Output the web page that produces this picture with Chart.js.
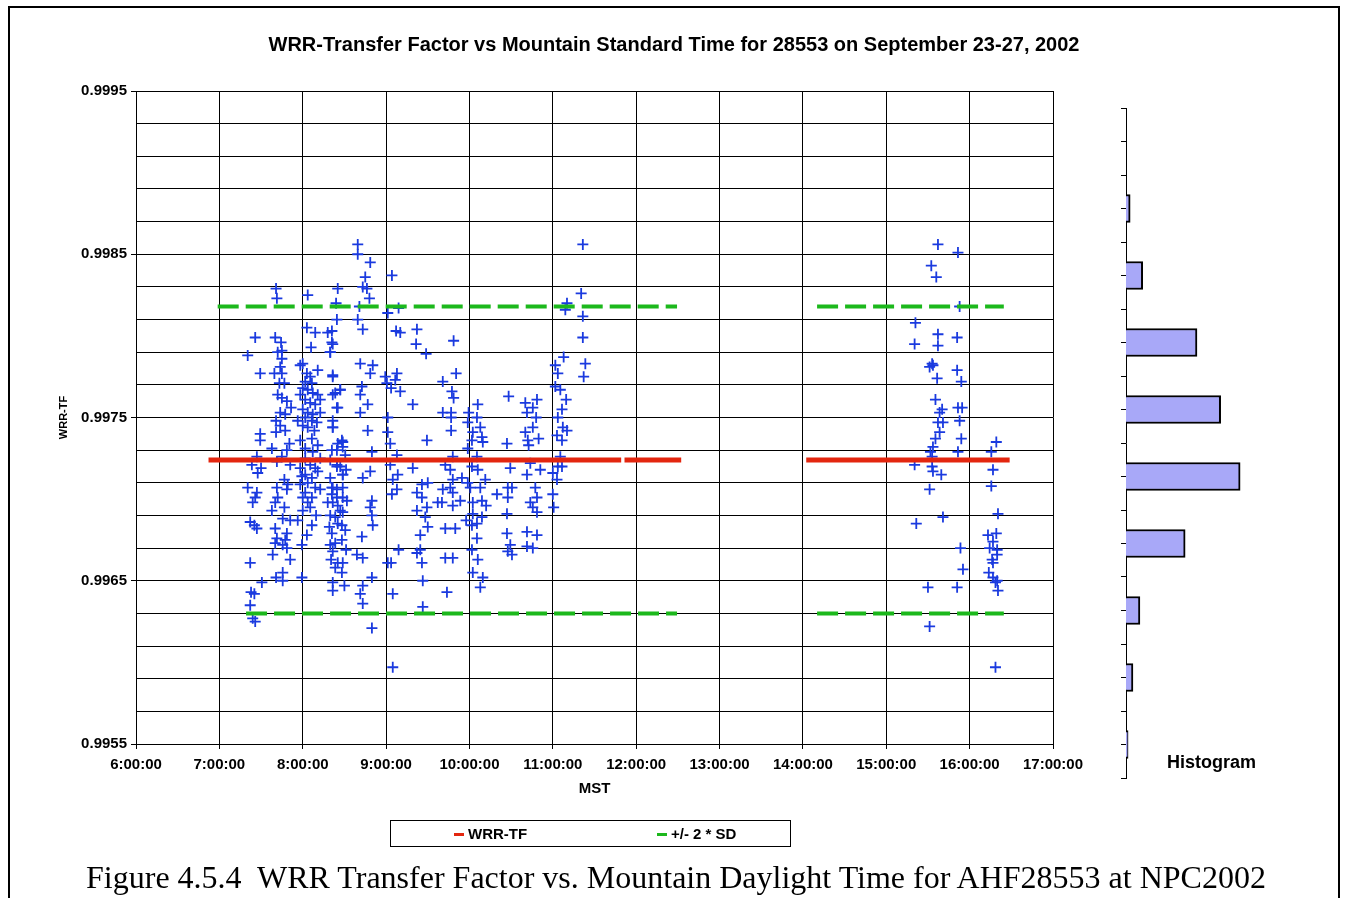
<!DOCTYPE html>
<html>
<head>
<meta charset="utf-8">
<title>WRR-Transfer Factor vs Mountain Standard Time</title>
<script src="https://cdn.jsdelivr.net/npm/chart.js@4.4.0/dist/chart.umd.min.js"></script>
<style>
  body { margin: 0; background: #fff; }
  #page { position: relative; width: 1348px; height: 898px; overflow: hidden; font-family: "Liberation Sans", Arial, sans-serif; }
  #frame { position: absolute; left: 8px; top: 6px; width: 1328px; height: 940px; border: 2px solid #000; }
  #mainChart { position: absolute; left: 0; top: 0; }
  #histChart { position: absolute; left: 1100px; top: 90px; }
  #histLabel { position: absolute; left: 1167px; top: 752px; font-size: 18px; font-weight: bold; line-height: 20px; }
  #legendBox { position: absolute; left: 390px; top: 820px; width: 399px; height: 25px; border: 1.5px solid #000; }
  .legend-item { position: absolute; top: 4px; font-size: 15px; font-weight: bold; line-height: 18px; white-space: nowrap; }
  .legend-mark { display: inline-block; width: 10px; height: 3px; vertical-align: middle; margin-right: 4px; position: relative; top: -1px; }
  #caption { position: absolute; left: 0; width: 1352px; top: 861px; text-align: center; font-family: "Liberation Serif", "Times New Roman", serif; font-size: 32px; line-height: 32px; white-space: nowrap; }
</style>
</head>
<body>
<div id="page">
  <div id="frame"></div>
  <canvas id="mainChart" width="1348" height="898"></canvas>
  <canvas id="histChart" width="200" height="700"></canvas>
  <div id="histLabel">Histogram</div>
  <div id="legendBox"></div>
  <div id="caption">Figure 4.5.4&nbsp; WRR Transfer Factor vs. Mountain Daylight Time for AHF28553 at NPC2002</div>
</div>
<script>
'use strict'

//++++++++++++++ Data ++++++++++++++//
// MST in decimal hours, WRR-TF value
let morningPoints = [
  // 7:20 - 7:30
  [7.43,0.99799],[7.34,0.99788],[7.49,0.99777],[7.49,0.99740],[7.49,0.99736],[7.45,0.99726],
  [7.39,0.99721],[7.50,0.99719],[7.46,0.99716],[7.34,0.99707],[7.45,0.99704],[7.43,0.99701],
  [7.40,0.99698],[7.37,0.99686],[7.42,0.99684],[7.45,0.99682],[7.37,0.99661],[7.51,0.99649],
  [7.38,0.99643],[7.42,0.99642],[7.37,0.99635],[7.40,0.99627],[7.43,0.99625],
  // 7:40 - 7:55
  [7.68,0.99829],[7.69,0.99823],[7.67,0.99799],[7.74,0.99796],[7.70,0.99790],[7.75,0.99791],
  [7.75,0.99786],[7.73,0.99781],[7.66,0.99777],[7.75,0.99777],[7.72,0.99771],[7.78,0.99771],
  [7.70,0.99764],[7.75,0.99762],[7.81,0.99760],[7.86,0.99756],[7.73,0.99753],[7.79,0.99752],
  [7.68,0.99748],[7.73,0.99745],[7.79,0.99742],[7.68,0.99741],[7.84,0.99734],[7.81,0.99730],
  [7.75,0.99726],[7.69,0.99723],[7.78,0.99712],[7.82,0.99709],[7.69,0.99707],[7.81,0.99706],
  [7.70,0.99701],[7.67,0.99698],[7.78,0.99695],[7.76,0.99688],[7.67,0.99682],[7.81,0.99679],
  [7.69,0.99676],[7.79,0.99675],[7.76,0.99672],[7.67,0.99673],[7.81,0.99670],[7.68,0.99652],
  [7.76,0.99655],[7.76,0.99650],[7.99,0.99652],
  [7.63,0.99731],[7.85,0.99721],[7.63,0.99693],[7.85,0.99687],[7.64,0.99666],[7.85,0.99663],
  // 8:00 - 8:12
  [8.06,0.99825],[8.05,0.99805],[8.15,0.99802],[8.10,0.99793],[8.00,0.99783],[8.05,0.99777],
  [8.09,0.99775],[8.03,0.99772],[8.11,0.99771],[8.00,0.99768],[8.06,0.99767],[8.12,0.99765],
  [8.18,0.99764],[8.03,0.99761],[8.09,0.99759],[8.15,0.99758],[8.00,0.99755],[8.06,0.99753],
  [8.12,0.99752],[8.03,0.99750],[8.11,0.99748],[8.17,0.99747],[8.00,0.99745],[8.06,0.99744],
  [8.14,0.99742],[8.11,0.99737],[8.03,0.99731],[8.12,0.99729],[8.09,0.99721],[8.15,0.99719],
  [8.03,0.99715],[8.11,0.99713],[8.06,0.99710],[8.15,0.99707],[8.03,0.99704],[8.11,0.99701],
  [8.00,0.99701],[8.06,0.99698],[8.09,0.99695],[7.99,0.99714],
  [7.97,0.99782],[8.18,0.99779],[7.97,0.99764],[8.21,0.99761],[7.94,0.99748],[8.21,0.99753],
  [7.97,0.99736],[8.18,0.99733],[8.03,0.99725],[8.21,0.99725],[7.97,0.99719],[8.18,0.99717],
  [7.97,0.99709],[8.21,0.99706],[8.00,0.99693],[8.16,0.99690],[7.94,0.99687],[8.11,0.99684],
  [8.05,0.99678],[7.99,0.99672],
  // 8:18 - 8:32
  [8.35,0.99796],[8.33,0.99790],[8.36,0.99776],[8.39,0.99765],[8.45,0.99767],[8.41,0.99756],
  [8.36,0.99748],[8.36,0.99744],[8.47,0.99736],[8.42,0.99734],[8.35,0.99730],[8.48,0.99732],
  [8.41,0.99720],[8.48,0.99715],[8.35,0.99707],[8.48,0.99707],[8.41,0.99701],[8.42,0.99696],
  [8.30,0.99802],[8.32,0.99683],[8.30,0.99698],
  [8.45,0.99720],[8.41,0.99706],[8.36,0.99698],[8.48,0.99692],[8.39,0.99689],[8.47,0.99684],
  [8.35,0.99679],[8.47,0.99675],[8.39,0.99673],
  [8.33,0.99724],[8.51,0.99727],[8.33,0.99713],[8.52,0.99718],[8.35,0.99703],[8.53,0.99699],
  [8.33,0.99690],[8.51,0.99681],[8.33,0.99672],[8.52,0.99669],[8.34,0.99663],[8.50,0.99647],
  [8.36,0.99644],
  // 8:20 - 9:30 upper part
  [8.66,0.99856],[8.66,0.99850],[8.81,0.99845],[8.75,0.99836],[9.07,0.99837],[8.42,0.99829],
  [8.72,0.99830],[8.77,0.99829],[8.80,0.99823],[8.40,0.99820],[8.68,0.99818],[9.02,0.99814],
  [9.15,0.99817],[8.41,0.99810],[8.66,0.99810],[8.35,0.99803],[8.72,0.99804],[9.12,0.99803],
  [9.17,0.99802],[9.37,0.99804],[8.36,0.99795],[9.36,0.99795],[8.33,0.99790],[9.48,0.99789],
  [8.69,0.99783],[8.84,0.99782],[8.36,0.99775],[8.81,0.99777],[8.99,0.99775],[9.13,0.99777],
  [9.01,0.99771],[9.11,0.99773],[8.71,0.99769],[9.06,0.99768],[9.17,0.99766],[8.36,0.99764],
  [8.45,0.99767],[8.69,0.99764],
  // 8:20 - 9:30 middle part
  [8.42,0.99756],[8.78,0.99758],[8.69,0.99753],[9.32,0.99758],[9.02,0.99750],[8.36,0.99744],
  [8.78,0.99742],[9.02,0.99741],[9.49,0.99736],[8.48,0.99735],[9.05,0.99734],[8.83,0.99729],
  [8.41,0.99730],[9.13,0.99727],[8.41,0.99721],[8.48,0.99715],[8.81,0.99717],[8.72,0.99713],
  [9.05,0.99721],[9.32,0.99719],[9.14,0.99715],[9.08,0.99712],[9.13,0.99706],[9.07,0.99703],
  [9.50,0.99710],[9.43,0.99709],[9.37,0.99704],[9.43,0.99701],[8.36,0.99707],[8.48,0.99701],
  [8.83,0.99699],[8.81,0.99695],[8.83,0.99690],[8.84,0.99684],[9.37,0.99693],[9.49,0.99695],
  [9.47,0.99689],[8.45,0.99693],[8.42,0.99685],[9.50,0.99683],[9.41,0.99678],[8.71,0.99677],
  // 8:20 - 9:40 lower part
  [8.36,0.99668],[8.42,0.99661],[8.48,0.99661],[8.39,0.99658],[8.47,0.99655],[8.36,0.99649],
  [8.65,0.99666],[8.72,0.99664],[8.83,0.99652],[8.72,0.99647],[8.69,0.99642],[8.72,0.99636],
  [8.83,0.99621],[9.15,0.99669],[9.02,0.99661],[9.06,0.99661],[9.08,0.99642],[9.08,0.99597],
  [9.37,0.99667],[9.41,0.99669],[9.43,0.99661],[9.44,0.99650],[9.44,0.99634],[9.62,0.99698],
  // 9:40 - 11:25
  [11.36,0.99856],[11.34,0.99826],[11.17,0.99820],[11.15,0.99816],[11.36,0.99812],[11.36,0.99799],
  [9.81,0.99797],[11.13,0.99787],[11.03,0.99782],[11.39,0.99783],[11.06,0.99777],[11.37,0.99775],
  [9.84,0.99777],[9.68,0.99772],[9.79,0.99766],[9.81,0.99762],[11.03,0.99769],[11.09,0.99767],
  [11.16,0.99761],[10.47,0.99763],[10.67,0.99759],[10.81,0.99761],[10.76,0.99756],[10.69,0.99753],
  [10.80,0.99750],[10.10,0.99758],[9.99,0.99753],[10.09,0.99750],[9.98,0.99747],[10.13,0.99744],
  [10.04,0.99741],[10.15,0.99738],[10.03,0.99736],[10.16,0.99735],[9.98,0.99731],[9.68,0.99753],
  [9.78,0.99753],[9.78,0.99750],[9.78,0.99742],[10.45,0.99734],[10.67,0.99741],[10.76,0.99744],
  [10.70,0.99736],[10.83,0.99737],[10.71,0.99733],[11.11,0.99755],[11.06,0.99750],[11.12,0.99744],
  [11.17,0.99742],[11.05,0.99739],[11.11,0.99736],[11.09,0.99726],[9.80,0.99726],[10.09,0.99726],
  [9.71,0.99721],[9.77,0.99718],[9.80,0.99712],[9.77,0.99707],[9.68,0.99706],[9.80,0.99704],
  [9.67,0.99698],[9.80,0.99696],[10.03,0.99720],[10.10,0.99718],[9.98,0.99710],[10.01,0.99707],
  [10.13,0.99707],[10.04,0.99698],[10.15,0.99699],[10.04,0.99691],[10.15,0.99689],[10.09,0.99685],
  [10.03,0.99684],[10.09,0.99676],[10.03,0.99669],[10.10,0.99663],[10.04,0.99655],[10.16,0.99652],
  [10.13,0.99646],[9.71,0.99682],[9.83,0.99682],[9.71,0.99664],[9.80,0.99664],[9.73,0.99643],
  [10.49,0.99719],[10.46,0.99707],[10.51,0.99707],[10.33,0.99703],[10.46,0.99701],[10.45,0.99691],
  [10.45,0.99679],[10.49,0.99672],[10.46,0.99668],[10.51,0.99666],[10.69,0.99715],[10.73,0.99722],
  [10.85,0.99718],[10.79,0.99707],[10.81,0.99701],[10.73,0.99698],[10.76,0.99695],[10.81,0.99692],
  [10.69,0.99680],[10.81,0.99678],[10.69,0.99671],[10.76,0.99670],[11.06,0.99720],[11.11,0.99720],
  [11.00,0.99716],[11.05,0.99712],[11.00,0.99703],[11.01,0.99695],
  [9.91,0.99713],[10.19,0.99712],[9.89,0.99699],[10.20,0.99696],[9.96,0.99687]
];

let afternoonPoints = [
  [15.62,0.99856],[15.86,0.99851],[15.54,0.99843],[15.60,0.99836],[15.88,0.99818],[15.35,0.99808],
  [15.62,0.99801],[15.85,0.99799],[15.34,0.99795],[15.62,0.99794],[15.55,0.99783],[15.56,0.99782],
  [15.52,0.99781],[15.85,0.99779],[15.61,0.99774],[15.90,0.99772],[15.59,0.99761],[15.67,0.99755],
  [15.64,0.99753],[15.86,0.99756],[15.91,0.99756],[15.62,0.99747],[15.68,0.99747],[15.88,0.99748],
  [15.64,0.99741],[15.59,0.99737],[15.90,0.99737],[15.56,0.99732],[15.53,0.99729],[15.55,0.99726],
  [15.86,0.99729],[16.32,0.99735],[16.26,0.99729],[15.34,0.99721],[15.55,0.99720],[15.56,0.99717],
  [15.66,0.99715],[16.28,0.99718],[15.52,0.99706],[16.26,0.99708],[15.68,0.99689],[15.36,0.99685],
  [16.34,0.99691],[15.89,0.99670],[16.22,0.99678],[16.32,0.99679],[16.28,0.99674],[16.24,0.99670],
  [16.33,0.99669],[16.33,0.99666],[15.92,0.99657],[16.27,0.99663],[16.28,0.99661],[16.23,0.99655],
  [16.28,0.99652],[16.33,0.99650],[16.31,0.99649],[16.34,0.99644],[15.50,0.99646],[15.85,0.99646],
  [15.52,0.99622],[16.31,0.99597]
];

// mean and +/- 2 SD levels, drawn over the measured time spans
let wrrMean = 0.99724;
let sdUpper = 0.99818;
let sdLower = 0.99630;
let wrrSpans = [[6.87, 11.82], [11.86, 12.54], [14.04, 16.48]];
let sdUpperSpans = [[6.98, 12.49], [14.17, 16.41]];
let sdLowerSpans = [[7.32, 12.49], [14.17, 16.41]];

let hourTicks = ['6:00:00', '7:00:00', '8:00:00', '9:00:00', '10:00:00', '11:00:00',
  '12:00:00', '13:00:00', '14:00:00', '15:00:00', '16:00:00', '17:00:00'];
let yTickLabels = ['0.9955', '0.9965', '0.9975', '0.9985', '0.9995'];

// histogram, one bin every other tick from the top
let histCounts = [0, 6, 24, 102, 136, 164, 85, 20, 10, 3];

//++++++++++++++ Colours ++++++++++++++//
let blue = '#1a3adf';
let red = '#e3260f';
let green = '#1cb81c';
let fontFamily = '"Liberation Sans", Arial, sans-serif';

Chart.defaults.color = '#000';
Chart.defaults.font.family = fontFamily;

function spanData(spans, level) {
  let data = [];
  spans.forEach((span, i) => {
    if (i > 0) {
      data.push({ x: (spans[i - 1][1] + span[0]) / 2, y: null });
    }
    data.push({ x: span[0], y: level });
    data.push({ x: span[1], y: level });
  });
  return data;
}

function toPoints(list) {
  return list.map(p => ({ x: p[0], y: p[1] }));
}

//++++++++++++++ Main chart ++++++++++++++//
const mainCtx = document.getElementById('mainChart').getContext('2d');
const mainChart = new Chart(mainCtx, {
  type: 'scatter',
  data: {
    datasets: [{
      label: 'WRR-TF',
      data: spanData(wrrSpans, wrrMean),
      showLine: true,
      borderColor: red,
      backgroundColor: red,
      borderWidth: 5,
      pointRadius: 0,
      inLegend: true
    }, {
      label: '+/- 2 * SD',
      data: spanData(sdUpperSpans, sdUpper),
      showLine: true,
      borderColor: green,
      backgroundColor: green,
      borderWidth: 4,
      borderDash: [21, 7],
      pointRadius: 0,
      inLegend: true
    }, {
      label: '+/- 2 * SD (low)',
      data: spanData(sdLowerSpans, sdLower),
      showLine: true,
      borderColor: green,
      borderWidth: 4,
      borderDash: [21, 7],
      pointRadius: 0
    }, {
      label: 'WRR-TF data',
      data: toPoints(morningPoints.concat(afternoonPoints)),
      pointStyle: 'cross',
      pointRadius: 5.5,
      pointBorderWidth: 1.8,
      borderColor: blue,
      backgroundColor: blue
    }]
  },
  options: {
    responsive: false,
    animation: false,
    layout: { padding: { left: 0, right: 0, top: 20, bottom: 94 } },
    plugins: {
      legend: { display: false },
      tooltip: { enabled: false },
      title: {
        display: true,
        text: 'WRR-Transfer Factor vs Mountain Standard Time for 28553 on September 23-27, 2002',
        font: { size: 20, weight: 'bold' },
        padding: { top: 13, bottom: 34 }
      }
    },
    scales: {
      x: {
        type: 'linear',
        min: 6,
        max: 17,
        afterFit: scale => { scale.height = 60; },
        ticks: {
          stepSize: 1,
          padding: 7,
          maxRotation: 0,
          font: { size: 15, weight: 'bold' },
          callback: value => hourTicks[value - 6]
        },
        grid: { color: '#000', lineWidth: 1, tickLength: 5 },
        border: { color: '#000', width: 1 },
        title: {
          display: true,
          text: 'MST',
          font: { size: 15, weight: 'bold' },
          padding: { top: 0, bottom: 6 }
        }
      },
      y: {
        min: 0.9955,
        max: 0.9995,
        afterFit: scale => { scale.width = 136; },
        ticks: {
          stepSize: 0.0002,
          padding: 4,
          font: { size: 15, weight: 'bold' },
          callback: value => {
            let s = value.toFixed(4);
            return yTickLabels.includes(s) ? s : '';
          }
        },
        grid: {
          color: '#000',
          lineWidth: 1,
          tickLength: 5,
          tickColor: ctx => (ctx.tick && yTickLabels.includes(ctx.tick.value.toFixed(4))) ? '#000' : 'rgba(0,0,0,0)'
        },
        border: { color: '#000', width: 1 },
        title: {
          display: true,
          text: 'WRR-TF',
          font: { size: 11, weight: 'bold' },
          padding: { top: 57, bottom: 0 }
        }
      },
      // empty right-hand axis: keeps room for the histogram so the title stays centred on the page
      spacer: {
        position: 'right',
        display: true,
        afterFit: scale => { scale.width = 295; },
        ticks: { display: false },
        grid: { display: false, drawTicks: false },
        border: { display: false }
      }
    }
  }
});

//++++++++++++++ Legend ++++++++++++++//
let legendBox = document.getElementById('legendBox');
let legendOffsets = [63, 266];
mainChart.data.datasets.filter(ds => ds.inLegend).forEach((ds, i) => {
  let item = document.createElement('div');
  item.className = 'legend-item';
  item.style.left = legendOffsets[i] + 'px';
  let mark = document.createElement('span');
  mark.className = 'legend-mark';
  mark.style.background = ds.borderColor;
  item.appendChild(mark);
  item.appendChild(document.createTextNode(ds.label));
  legendBox.appendChild(item);
});

//++++++++++++++ Histogram ++++++++++++++//
const histCtx = document.getElementById('histChart').getContext('2d');
const histChart = new Chart(histCtx, {
  type: 'bar',
  data: {
    datasets: [{
      label: 'Histogram',
      data: histCounts.map((c, i) => ({ x: c, y: 2 * i + 1 })),
      backgroundColor: '#a8a8f8',
      borderColor: '#000',
      borderWidth: 2,
      barThickness: 28
    }]
  },
  options: {
    indexAxis: 'y',
    responsive: false,
    animation: false,
    layout: { padding: { left: 21, right: 0, top: 18, bottom: 12 } },
    plugins: { legend: { display: false }, tooltip: { enabled: false } },
    scales: {
      x: { min: 0, max: 250, display: false },
      y: {
        type: 'linear',
        min: 0,
        max: 20,
        reverse: true,
        offset: false,
        afterFit: scale => { scale.width = 5; },
        ticks: { stepSize: 1, display: false },
        grid: { offset: false, drawOnChartArea: false, tickLength: 5, color: '#000' },
        border: { color: '#000', width: 1 }
      }
    }
  }
});
</script>
</body>
</html>
